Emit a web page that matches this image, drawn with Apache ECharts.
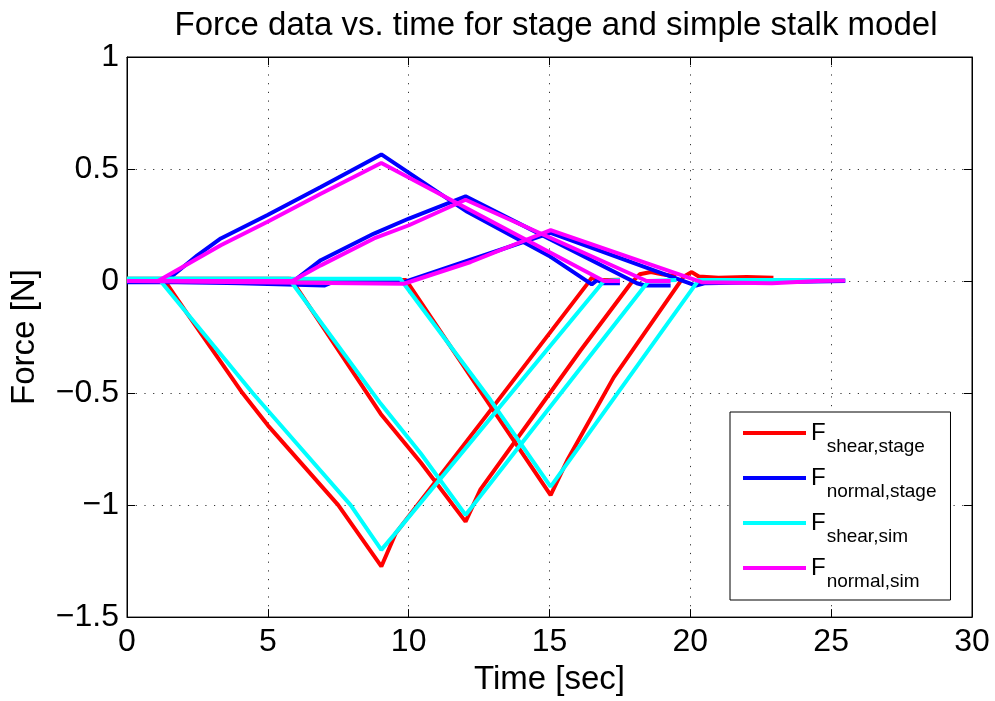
<!DOCTYPE html>
<html>
<head>
<meta charset="utf-8">
<script src="https://cdn.jsdelivr.net/npm/echarts@6/dist/echarts.min.js"></script>
<style>
  html, body { margin: 0; padding: 0; background: #fff; }
  #main { width: 995px; height: 701px; }
</style>
</head>
<body>
<div id="main"></div>
<script>
// time [sec], force [N] pairs, three runs per signal
const shearStageA = [[0, 0.005], [1.32, 0.005], [2.15, -0.148], [4.1, -0.5], [5.0, -0.644], [7.5, -1.0], [9.03, -1.274], [9.54, -1.126], [12.8, -0.594], [16.33, -0.015], [16.5, 0.015], [16.7, 0.004], [17.5, 0.006]]
const shearStageB = [[0, 0.01], [5.82, 0.01], [9.01, -0.593], [10.43, -0.81], [12.02, -1.074], [12.55, -0.93], [14.5, -0.59], [16.1, -0.31], [17.87, -0.013], [18.2, 0.03], [18.6, 0.04], [19.0, 0.03], [19.5, 0.02]]
const shearStageC = [[0, 0.005], [9.9, 0.005], [12.9, -0.557], [15.04, -0.956], [15.63, -0.8], [17.28, -0.43], [19.76, 0.019], [20.05, 0.04], [20.3, 0.02], [21, 0.015], [22, 0.018], [22.95, 0.015]]

const normalStageA = [[0, 0], [1.15, 0], [1.68, 0.03], [2.5, 0.115], [3.33, 0.19], [4.99, 0.295], [6.88, 0.42], [9.03, 0.565], [12.08, 0.309], [15.04, 0.108], [16.33, 0], [16.5, -0.015], [16.7, 0.005], [16.9, -0.01], [17.5, -0.01]]
const normalStageB = [[0, -0.005], [5.87, -0.005], [6.88, 0.093], [8.77, 0.212], [10.01, 0.279], [12.02, 0.378], [18.1, -0.01], [18.4, -0.02], [19.3, -0.02]]
const normalStageC = [[0, 0], [4, -0.01], [7.0, -0.02], [7.3, -0.005], [9.83, -0.005], [12.2, 0.095], [15.04, 0.215], [20.2, -0.02], [20.5, -0.01], [25.5, 0]]

const shearSimA = [[0, 0.005], [1.16, 0.005], [4.46, -0.5], [5.0, -0.578], [7.94, -1.0], [9.03, -1.2], [9.48, -1.133], [16.93, 0], [17.5, 0.005]]
const shearSimB = [[0, 0.01], [5.75, 0.01], [9.01, -0.548], [10.43, -0.77], [12.02, -1.044], [18.52, 0], [19.5, 0.005]]
const shearSimC = [[0, 0.01], [9.7, 0.01], [12.9, -0.53], [15.04, -0.918], [20.3, 0.005], [25.5, 0.005]]

const normalSimA = [[0, 0], [1.1, 0], [3.33, 0.16], [4.99, 0.265], [6.88, 0.39], [9.03, 0.527], [16.93, 0], [17.5, 0]]
const normalSimB = [[0, 0], [5.87, 0], [6.88, 0.07], [8.77, 0.19], [10.01, 0.249], [12.02, 0.363], [18.45, 0], [19.3, 0]]
const normalSimC = [[0, 0], [9.83, -0.012], [12.2, 0.085], [15.04, 0.227], [20.4, -0.005], [22.9, -0.01], [24.5, 0], [25.5, 0.002]]

const legendNames = ['shear,stage', 'normal,stage', 'shear,sim', 'normal,sim']
const colors = ['#ff0000', '#0000ff', '#00ffff', '#ff00ff']
const runs = [
  [shearStageA, shearStageB, shearStageC],
  [normalStageA, normalStageB, normalStageC],
  [shearSimA, shearSimB, shearSimC],
  [normalSimA, normalSimB, normalSimC],
]

const FONT = '"Liberation Sans", Arial, Helvetica, sans-serif'
const fmt = (v) => String(v).replace('-', '\u2212')

const series = []
runs.forEach((group, i) => {
  group.forEach((data) => {
    series.push({
      name: legendNames[i],
      type: 'line',
      data,
      symbol: 'none',
      color: colors[i],
      lineStyle: { width: 4, color: colors[i] },
      animation: false,
    })
  })
})

const chart = echarts.init(document.getElementById('main'))
const dotted = { show: true, lineStyle: { color: '#333', width: 1, type: [1.2, 7.5] } }
const tickIn = { show: true, inside: true, length: 8, lineStyle: { color: '#000' } }

chart.setOption({
  backgroundColor: '#fff',
  animation: false,
  title: {
    text: 'Force data vs. time for stage and simple stalk model',
    left: 551, top: 4, textAlign: 'center',
    textStyle: { fontFamily: FONT, fontSize: 33, fontWeight: 'normal', color: '#000' },
  },
  grid: { left: 126, right: 23, top: 57, bottom: 79, show: true, borderColor: '#000', borderWidth: 1, backgroundColor: '#fff' },
  legend: {
    data: legendNames,
    orient: 'vertical',
    left: 730, top: 412,
    padding: [9, 14, 9, 13],
    itemGap: 10,
    itemWidth: 63,
    itemHeight: 4,
    icon: 'rect',
    borderColor: '#000', borderWidth: 1, backgroundColor: '#fff',
    formatter: (name) => '{f|F}{s|' + name + '}',
    textStyle: {
      fontFamily: FONT, color: '#000',
      rich: {
        f: { fontFamily: FONT, fontSize: 24, lineHeight: 24, verticalAlign: 'top', color: '#000' },
        s: { fontFamily: FONT, fontSize: 19, lineHeight: 19, padding: [16, 0, 0, 1], verticalAlign: 'top', color: '#000' },
      },
    },
  },
  xAxis: [
    {
      type: 'value', min: 0, max: 30, interval: 5,
      name: 'Time [sec]', nameLocation: 'middle', nameGap: 42,
      nameTextStyle: { fontFamily: FONT, fontSize: 33, color: '#000' },
      axisLine: { show: true, onZero: false, lineStyle: { color: '#000' } },
      axisTick: tickIn,
      axisLabel: { fontFamily: FONT, fontSize: 32, color: '#000', margin: 9, formatter: fmt },
      splitLine: dotted,
    },
    {
      type: 'value', min: 0, max: 30, interval: 5, position: 'top',
      axisLine: { show: true, onZero: false, lineStyle: { color: '#000' } },
      axisTick: tickIn, axisLabel: { show: false }, splitLine: { show: false },
    },
  ],
  yAxis: [
    {
      type: 'value', min: -1.5, max: 1, interval: 0.5,
      name: 'Force [N]', nameLocation: 'middle', nameGap: 86,
      nameTextStyle: { fontFamily: FONT, fontSize: 33, color: '#000' },
      axisLine: { show: true, onZero: false, lineStyle: { color: '#000' } },
      axisTick: tickIn,
      axisLabel: { fontFamily: FONT, fontSize: 32, color: '#000', margin: 8, formatter: fmt },
      splitLine: dotted,
    },
    {
      type: 'value', min: -1.5, max: 1, interval: 0.5, position: 'right',
      axisLine: { show: true, onZero: false, lineStyle: { color: '#000' } },
      axisTick: tickIn, axisLabel: { show: false }, splitLine: { show: false },
    },
  ],
  series,
})
</script>
</body>
</html>
